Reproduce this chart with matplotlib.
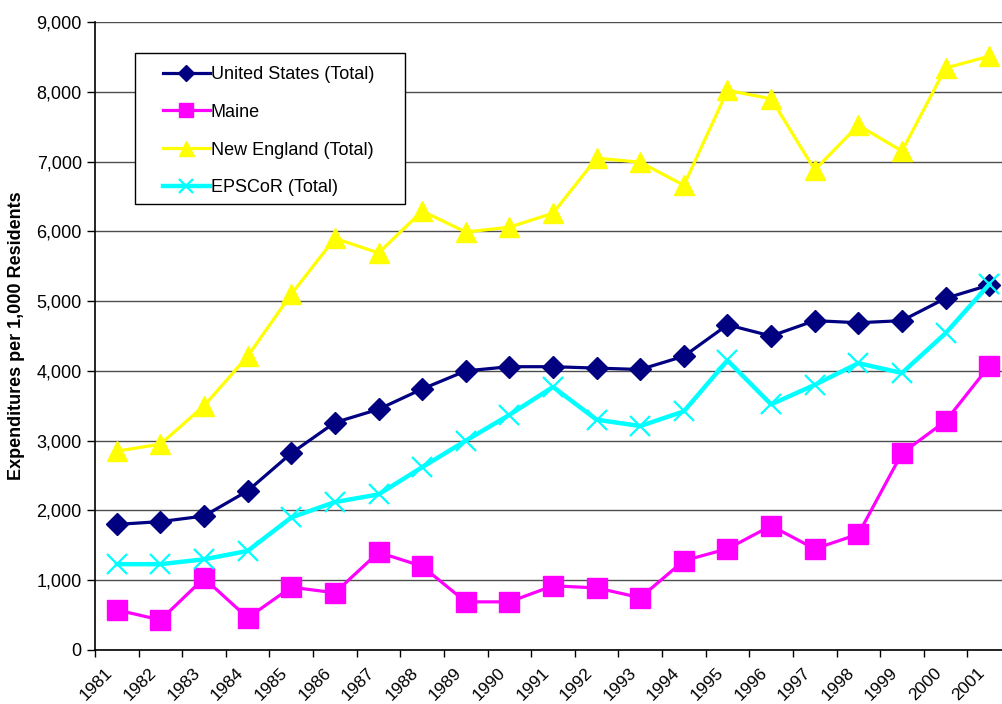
import matplotlib
matplotlib.use("Agg")
import matplotlib.pyplot as plt
from matplotlib.ticker import FuncFormatter, FixedLocator
from matplotlib.patches import Rectangle

plt.rcParams['font.family'] = ['Liberation Sans', 'DejaVu Sans']

years = [str(y) for y in range(1981, 2002)]
us_total = [1800, 1840, 1920, 2280, 2820, 3260, 3450, 3740, 4000, 4060, 4060,
            4040, 4020, 4210, 4660, 4500, 4720, 4690, 4720, 5040, 5230]
maine = [575, 430, 1030, 460, 900, 820, 1400, 1200, 690, 690, 920,
         890, 750, 1280, 1450, 1780, 1450, 1660, 2820, 3280, 4070]
new_england = [2850, 2950, 3500, 4210, 5100, 5900, 5690, 6290, 5990, 6060, 6260,
               7050, 6990, 6660, 8020, 7900, 6880, 7520, 7150, 8340, 8510]
epscor = [1230, 1230, 1300, 1420, 1900, 2120, 2230, 2620, 3000, 3370, 3770,
          3300, 3210, 3420, 4150, 3520, 3800, 4110, 3970, 4540, 5240]

W, H = 1003, 704
fig = plt.figure(figsize=(W / 100, H / 100), dpi=100)
ax = fig.add_axes([95 / W, (H - 650) / H, (1011 - 95) / W, 628 / H])

x = [i + 0.5 for i in range(len(years))]

ax.plot(x, us_total, color='#000080', lw=2.3, marker='D', ms=11,
        label='United States (Total)', zorder=4)
ax.plot(x, maine, color='#FF00FF', lw=2.3, marker='s', ms=14,
        label='Maine', zorder=3)
ax.plot(x, new_england, color='#FFFF00', lw=2.3, marker='^', ms=15,
        label='New England (Total)', zorder=2)
ax.plot(x, epscor, color='#00FFFF', lw=3.2, marker='x', ms=14, mew=1.6,
        label='EPSCoR (Total)', zorder=5)

ax.set_xlim(0, len(years))
ax.set_ylim(0, 9000)
ax.set_yticks(range(0, 9001, 1000))
ax.yaxis.set_major_formatter(FuncFormatter(lambda v, p: f"{int(v):,}"))
ax.yaxis.grid(True, color='#4d4d4d', lw=1.0)
ax.set_axisbelow(True)

# boundaries carry the tick marks; labels sit slightly left of each category
ax.xaxis.set_major_locator(FixedLocator(range(0, len(years) + 1)))
ax.xaxis.set_major_formatter(FuncFormatter(lambda v, p: ''))
label_pos = [i + 0.23 for i in range(len(years))]
ax.xaxis.set_minor_locator(FixedLocator(label_pos))
ax.set_xticklabels(years, minor=True, rotation=45, ha='right',
                   rotation_mode='anchor', fontsize=12.5)
ax.tick_params(axis='x', which='minor', length=0, pad=11)
ax.tick_params(axis='x', which='major', length=5, width=1, direction='out')
ax.tick_params(axis='y', length=6, width=1, labelsize=13, pad=3.5)

for s in ['top', 'right']:
    ax.spines[s].set_visible(False)
for s in ['left', 'bottom']:
    ax.spines[s].set_linewidth(1.2)
    ax.spines[s].set_color('black')

ax.set_ylabel('Expenditures per 1,000 Residents', fontsize=13, fontweight='bold')
ax.yaxis.set_label_coords((25 - 95) / 916, 0.5)

# legend frame drawn explicitly
frame = Rectangle((135 / W, (H - 204) / H), 270 / W, 151 / H,
                  transform=fig.transFigure, facecolor='white',
                  edgecolor='black', lw=1.0, zorder=9, clip_on=False)
ax.add_patch(frame)

leg = ax.legend(loc='upper left', bbox_to_anchor=(163 / W, (H - 66) / H),
                bbox_transform=fig.transFigure,
                fontsize=13, frameon=False, borderpad=0, labelspacing=1.15,
                handlelength=2.6, handletextpad=0.05, borderaxespad=0)
leg.set_zorder(10)
for h in leg.legend_handles:
    h.set_markersize(h.get_markersize() * 0.72)

fig.savefig('out.png', dpi=100)
